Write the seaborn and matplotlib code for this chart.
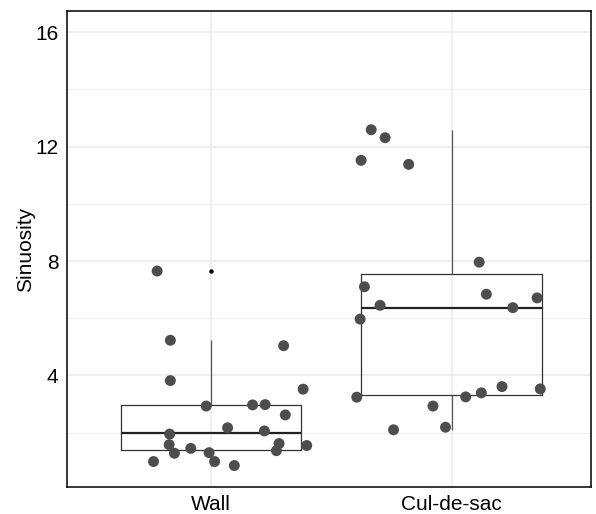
import numpy as np
import pandas as pd
import matplotlib
matplotlib.use("Agg")
import matplotlib.pyplot as plt
import seaborn as sns

# ---- data ----
categories = ["Wall", "Cul-de-sac"]

wall_values = [7.65, 5.23, 3.82, 5.04, 3.52, 2.93, 2.97, 2.98, 2.62, 2.17, 2.06,
               1.95, 1.58, 1.28, 1.45, 1.30, 1.62, 1.37, 1.55, 0.99, 0.99, 0.85]
wall_jitter = [-0.224, -0.169, -0.169, 0.302, 0.383, -0.020, 0.173, 0.225, 0.309, 0.069, 0.222,
               -0.172, -0.174, -0.152, -0.084, -0.008, 0.283, 0.272, 0.398, -0.239, 0.015, 0.097]

culdesac_values = [12.59, 12.31, 11.52, 11.38, 7.96, 7.10, 6.84, 6.71, 6.45, 6.37,
                   5.97, 3.24, 2.93, 2.10, 2.19, 3.25, 3.39, 3.61, 3.53]
culdesac_jitter = [-0.334, -0.276, -0.376, -0.178, 0.115, -0.362, 0.145, 0.356, -0.297, 0.255,
                   -0.380, -0.394, -0.077, -0.241, -0.025, 0.059, 0.124, 0.210, 0.369]

y_ticks = [4, 8, 12, 16]
y_label = "Sinuosity"

# ---- build table ----
df = pd.DataFrame({
    "group": [categories[0]] * len(wall_values) + [categories[1]] * len(culdesac_values),
    "value": wall_values + culdesac_values,
    "jitter": wall_jitter + culdesac_jitter,
})
df["xpos"] = df["group"].map({c: i for i, c in enumerate(categories)}) + df["jitter"]

# ---- figure ----
sns.set_theme(style="white")
plt.rcParams["font.family"] = ["Liberation Sans", "DejaVu Sans"]

fig = plt.figure(figsize=(5.96, 5.14), dpi=100)
ax = fig.add_axes([66.7 / 596, 1 - 487 / 514, (591 - 66.7) / 596, (487 - 11.3) / 514])

# grid
for v in [2, 6, 10, 14]:
    ax.axhline(v, color="#EBEBEB", lw=0.6, zorder=0)
for v in y_ticks:
    ax.axhline(v, color="#EBEBEB", lw=1.1, zorder=0)
for i in range(len(categories)):
    ax.axvline(i, color="#EBEBEB", lw=1.1, zorder=0)

sns.boxplot(
    data=df, x="group", y="value", order=categories, width=0.75, ax=ax,
    fill=False, color="#333333", linewidth=0.9,
    whiskerprops=dict(color="#555555", linewidth=0.9),
    capprops=dict(visible=False),
    medianprops=dict(color="#222222", linewidth=1.6),
    flierprops=dict(marker="o", markersize=2.2, markerfacecolor="black",
                    markeredgecolor="black"),
    zorder=2,
)

sns.scatterplot(x=df["xpos"].to_numpy(), y=df["value"].to_numpy(), ax=ax,
                color="#4D4D4D", s=62, edgecolor="none", zorder=3)

ax.set_xlim(-0.6, 1.58)
ax.set_ylim(0.1, 16.73)
ax.set_xticks(range(len(categories)))
ax.set_xticklabels(categories)
ax.set_yticks(y_ticks)
ax.set_yticklabels([str(t) for t in y_ticks])
ax.set_xlabel("")
ax.set_ylabel(y_label, fontsize=15, color="black", labelpad=0)
ax.tick_params(axis="both", labelsize=15, colors="black", length=3, width=0.8,
               direction="out", pad=3)
ax.tick_params(axis="both", color="#333333")
for s in ax.spines.values():
    s.set_visible(True)
    s.set_color("black")
    s.set_linewidth(1.1)

fig.savefig("out.png", dpi=100, facecolor="white")
